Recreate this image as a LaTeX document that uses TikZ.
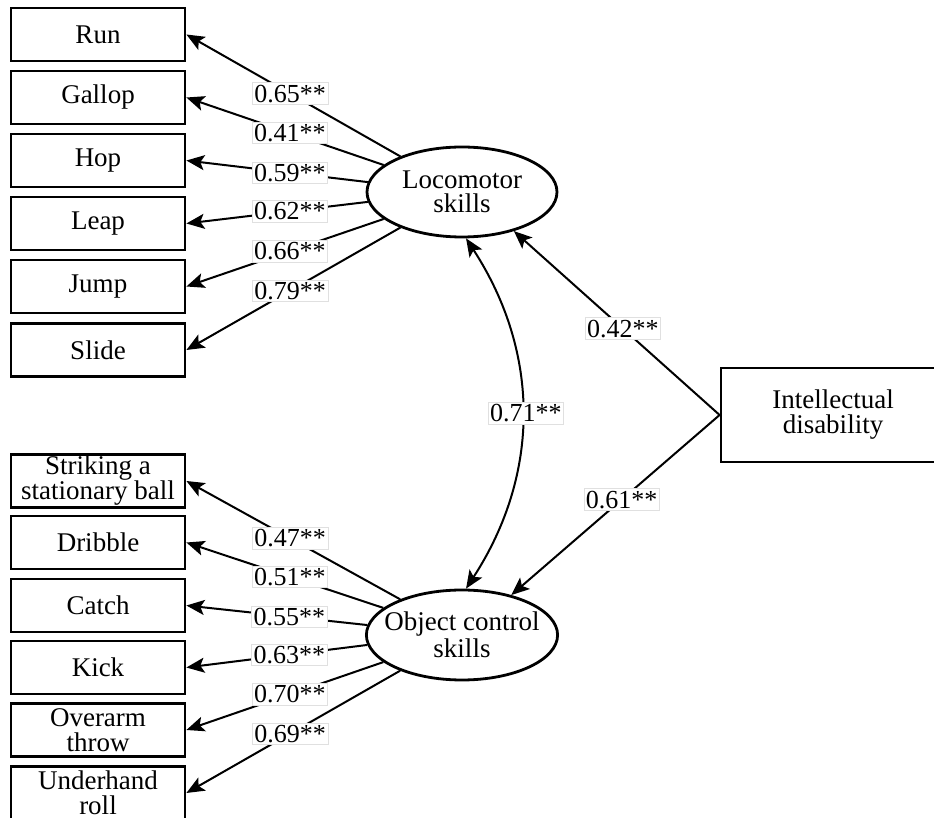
\documentclass[tikz,border=0pt]{standalone}
\usepackage{fontspec}
\setmainfont{Liberation Serif}
\usepackage{tikz}
\usetikzlibrary{shapes}
\usetikzlibrary{arrows.meta}
\newcommand{\obsnode}[4]{\node[obsbox] (#1) at ( #2 , #3 ) {#4};}
\newcommand{\loadedge}[4]{\draw[load] (#1) -- node[coef,pos=#3] {#4} (#2);}

\begin{document}
\begin{tikzpicture}[x=0.5pt,y=-0.5pt,
        obsbox/.style={draw,line width=1.4pt,minimum width=87pt,minimum height=26.5pt,inner sep=1pt,align=center,font=\fontsize{13.5}{12.5}\selectfont},
        latent/.style={ellipse,draw,line width=1.4pt,minimum width=95pt,minimum height=45pt,inner xsep=-5pt,inner ysep=0pt,align=center,font=\fontsize{13.5}{12}\selectfont},
        load/.style={line width=1pt,-{Stealth[length=9pt,width=7.5pt,inset=2pt]}},
        coef/.style={fill=white,draw=black!12,line width=0.3pt,inner sep=1pt,font=\fontsize{13}{13}\selectfont}]
        \useasboundingbox (0,0) rectangle (934,818);
        \clip (0,0) rectangle (934,818);
        %nodes
        \obsnode{run}{98}{34.5}{Run}
        \obsnode{gallop}{98}{97.5}{Gallop}
        \obsnode{hop}{98}{160.5}{Hop}
        \obsnode{leap}{98}{223.5}{Leap}
        \obsnode{jump}{98}{286.5}{Jump}
        \obsnode{slide}{98}{350}{Slide}
        \obsnode{strike}{98}{481}{Striking a\\stationary ball}
        \obsnode{dribble}{98}{542.5}{Dribble}
        \obsnode{catch}{98}{605.5}{Catch}
        \obsnode{kick}{98}{667.5}{Kick}
        \obsnode{overarm}{98}{730}{Overarm\\throw}
        \obsnode{underhand}{98}{793}{Underhand\\roll}
        \node[latent] (loco) at (462,192) {Locomotor\\skills};
        \node[latent] (objc) at (462,635) {Object control\\skills};
        \node[draw,line width=1.4pt,minimum width=112pt,minimum height=47pt,align=center,font=\fontsize{13.5}{12.5}\selectfont] (intel) at (833,415) {Intellectual\\disability};
        %edges
        \loadedge{loco.150}{run.east}{0.515}{0.65**}
        \loadedge{loco.161}{gallop.east}{0.475}{0.41**}
        \loadedge{loco.174}{hop.east}{0.43}{0.59**}
        \loadedge{loco.186}{leap.east}{0.43}{0.62**}
        \loadedge{loco.199}{jump.east}{0.475}{0.66**}
        \loadedge{loco.210}{slide.east}{0.515}{0.79**}
        \loadedge{objc.150}{strike.east}{0.515}{0.47**}
        \loadedge{objc.161}{dribble.east}{0.475}{0.51**}
        \loadedge{objc.174}{catch.east}{0.43}{0.55**}
        \loadedge{objc.186}{kick.east}{0.43}{0.63**}
        \loadedge{objc.199}{overarm.east}{0.475}{0.70**}
        \loadedge{objc.210}{underhand.east}{0.515}{0.69**}
        \loadedge{intel.west}{loco.-37}{0.47}{0.42**}
        \loadedge{intel.west}{objc.39}{0.47}{0.61**}
        \draw[line width=1pt,{Stealth[length=9pt,width=7.5pt,inset=2pt]}-{Stealth[length=9pt,width=7.5pt,inset=2pt]}] (loco.-85) to[bend left=33] node[coef,xshift=2pt] {0.71**} (objc.85);
\end{tikzpicture}
\end{document}
